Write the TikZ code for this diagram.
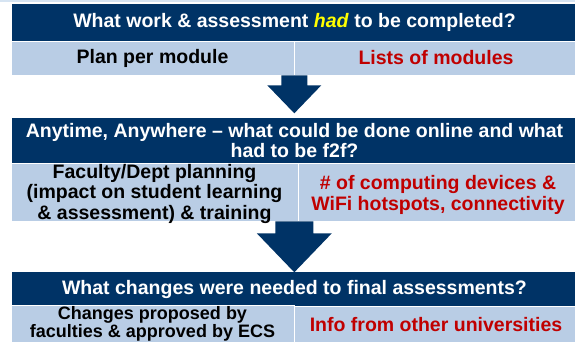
\documentclass[tikz,border=0pt]{standalone}
\usepackage{fontspec}
\setmainfont{Liberation Sans}
\definecolor{navy}{RGB}{0,51,102}
\definecolor{paleblue}{RGB}{185,205,229}
\definecolor{stripblue}{RGB}{214,228,242}
\definecolor{darkred}{RGB}{192,0,0}
\definecolor{hiyellow}{RGB}{255,255,0}
\tikzset{
  head/.style={rectangle, fill=navy, draw=white, line width=0.6pt, inner sep=0pt,
    text=white, align=center, font=\bfseries\fontsize{19.5}{20.5}\selectfont},
  cell/.style={rectangle, fill=paleblue, draw=white, line width=0.6pt, inner sep=0pt,
    align=center, font=\bfseries\fontsize{19.5}{20.5}\selectfont},
  redcell/.style={cell, text=darkred},
  txt/.style={inner sep=0pt, align=center, font=\bfseries\fontsize{19.5}{20.5}\selectfont},
  blockarrow/.style={fill=navy}
}
\begin{document}
\begin{tikzpicture}[x=1pt,y=-1pt]
\useasboundingbox (0,0) rectangle (575,341);
\clip (0,0) rectangle (575,341);
\fill[stripblue] (0,0) rectangle (575,1.5);
% first block
\node[head, minimum width=567, minimum height=38] (h1) at (294.5,22)
  {What work \& assessment \textcolor{hiyellow}{\textit{had}} to be completed?};
\node[cell, minimum width=283, minimum height=34] (l1) at (152.5,58) {Plan per module};
\node[redcell, minimum width=284, minimum height=34] (r1) at (436,58) {Lists of modules};
% second block
\node[head, minimum width=567, minimum height=46] (h2) at (294.5,140) {};
\node[cell, minimum width=287, minimum height=58] (l2) at (154.5,192) {};
\node[cell, minimum width=280, minimum height=58] (r2) at (438,192) {};
\node[txt, text=white] (h2t) at (294.5,140.5)
  {Anytime, Anywhere -- what could be done online and what\\had to be f2f?};
\node[txt] (l2t) at (154.5,193.5)
  {Faculty/Dept planning\\(impact on student learning\\\& assessment) \& training};
\node[txt, text=darkred] (r2t) at (438,195)
  {\# of computing devices \&\\WiFi hotspots, connectivity};
% third block
\node[head, minimum width=567, minimum height=36] (h3) at (294.5,289)
  {What changes were needed to final assessments?};
\node[cell, minimum width=283, minimum height=37,
  font=\bfseries\fontsize{18}{16.5}\selectfont] (l3) at (152.5,324)
  {Changes proposed by\\faculties \& approved by ECS};
\node[redcell, minimum width=284, minimum height=37] (r3) at (436,325)
  {Info from other universities};
% arrows between the blocks
\coordinate (a1) at (l1.south east);
\coordinate (a2) at (l1.south east |- l2.south);
\fill[blockarrow, shift={(a1)}] (-13,0) -- (13,0) -- (13,10) -- (27,10) -- (0,38)
  -- (-27,10) -- (-13,10) -- cycle;
\fill[blockarrow, shift={(a2)}] (-19,0) -- (19,0) -- (19,12) -- (37.5,12) -- (0,51)
  -- (-37.5,12) -- (-19,12) -- cycle;
\end{tikzpicture}
\end{document}
